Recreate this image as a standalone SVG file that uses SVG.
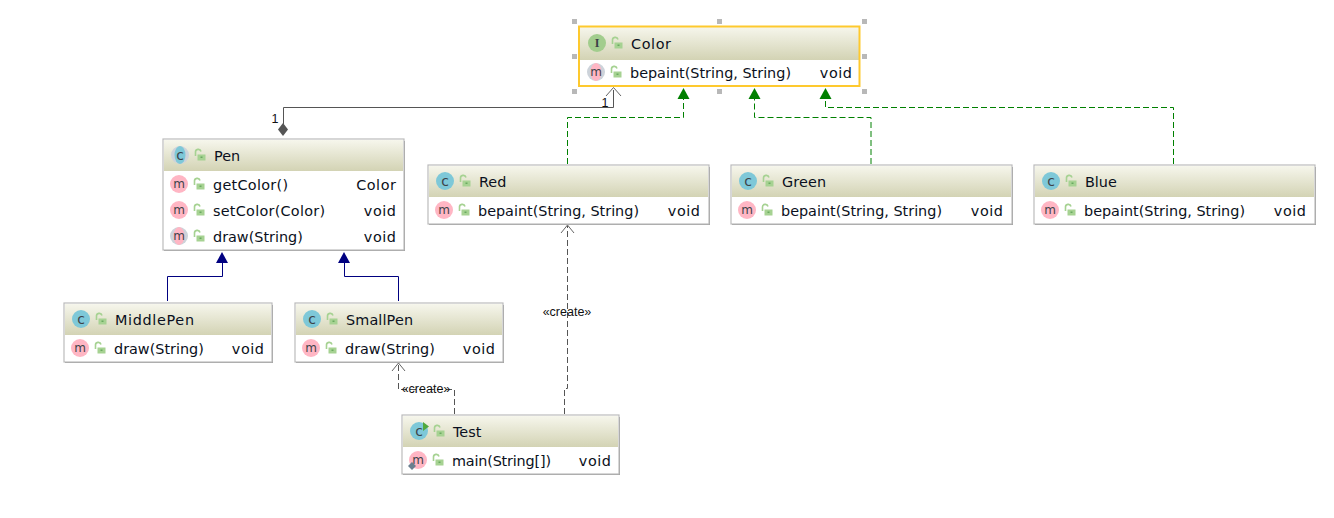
<svg xmlns="http://www.w3.org/2000/svg" xmlns:xlink="http://www.w3.org/1999/xlink" width="1334" height="518" viewBox="0 0 1334 518">
<style>
text{font-family:"DejaVu Sans","Liberation Sans",sans-serif;fill:#0a1020}
.t{font-size:14.4px}
.r{font-size:14.4px;text-anchor:end;letter-spacing:.55px}
.box{fill:#fff;stroke:#bcbcbc;stroke-width:1.2}
.sh{fill:#9a9a9a}
.hd{fill:url(#hg)}
.ic{font-size:12px;text-anchor:middle;fill:#3c4248}
.icc{font-size:14px;text-anchor:middle;fill:#3c4248}
.cc{fill:#7ec8d8}.mc{fill:#ffb6c4}.ic2{fill:#a2cd8d}
.ln{fill:none;stroke-width:1}
.g{stroke:#008000;stroke-dasharray:6 3}
.b{stroke:#000080}
.k{stroke:#555}
.o{fill:none;stroke:#666;stroke-width:1}
.d{stroke:#555;stroke-dasharray:6 3}
.lb{font-size:12.500px;text-anchor:middle;fill:#111;font-family:"Liberation Sans",sans-serif}
.n{font-size:12.500px;text-anchor:middle;fill:#111;font-family:"Liberation Sans",sans-serif}
.hdl{fill:#b8b8b8}
</style>
<defs>
<linearGradient id="hg" x1="0" y1="0" x2="0" y2="1"><stop offset="0" stop-color="#f6f6ec"/><stop offset="1" stop-color="#d3d3b4"/></linearGradient>
<g id="lock"><path d="M-4.500 0v-3.500a2.800 2.800 0 0 1 5.500-1" fill="none" stroke="#a6d292" stroke-width="1.600"/><rect x="-2.500" y="-1.500" width="8" height="6" fill="#a6d292"/><rect x="0.500" y="0.500" width="2" height="1.500" fill="#6aaa60"/></g>
<g id="cic"><circle r="9" class="cc"/><text y="5" class="icc">c</text></g>
<g id="mic"><circle r="9" class="mc"/><text y="4" class="ic">m</text></g>
<g id="mab"><circle r="9" fill="#cdd3da"/><ellipse rx="5.500" ry="9" class="mc"/><text y="4" class="ic">m</text></g>
<g id="cab"><circle r="9" fill="#cdd3da"/><ellipse rx="5.500" ry="9" class="cc"/><text y="5" class="icc">c</text></g>
</defs>
<rect width="1334" height="518" fill="#fff"/>

<g id="connectors">
<path class="ln k" d="M283.500 124V107.500H613.500V90"/>
<path class="o" d="M606 96L613.500 87.500L621 96"/>
<path fill="#555" d="M283 123l5 6.500-5 6.500-5-6.500z"/>
<path class="ln g" d="M567.500 164V117.500H683.500V98"/>
<path fill="#008000" d="M683.500 88l6 11h-12z"/>
<path class="ln g" d="M871 164V117.500H754.500V98"/>
<path fill="#008000" d="M754.500 88l6 11h-12z"/>
<path class="ln g" d="M1173.500 164V107.500H825.500V98"/>
<path fill="#008000" d="M825.500 88l6 11h-12z"/>
<path class="ln b" d="M167.500 301V276.500H222.500V263"/>
<path fill="#000080" d="M222 252l6 11h-12z"/>
<path class="ln b" d="M398.500 301V276.500H344.500V263"/>
<path fill="#000080" d="M344 252l6 11h-12z"/>
<path class="ln d" d="M564.500 414V388.500H567.500V226"/>
<path class="o" d="M561 233L567.500 225L574 233"/>
<path class="ln d" d="M454.500 414V389.500H398.500V364"/>
<path class="o" d="M392 371L398.500 363L405 371"/>
<text class="lb" x="567" y="316">«create»</text>
<text class="lb" x="426" y="393">«create»</text>
<text x="605" y="107" class="n">1</text>
<text x="275" y="123" class="n">1</text>
</g>

<g id="node-color">
<rect x="578.500" y="26.500" width="281" height="59" fill="#fff"/>
<rect x="579" y="27" width="280" height="33" class="hd"/>
<rect x="579" y="26.500" width="280.500" height="59.500" fill="none" stroke="#fec92e" stroke-width="2"/>
<circle cx="597" cy="43" r="9" class="ic2"/><text x="597" y="47" class="ic" style="font-family:'Liberation Serif',serif;font-weight:bold">I</text>
<use xlink:href="#lock" x="617" y="44"/>
<text class="t" x="631" y="49" textLength="40">Color</text>
<use xlink:href="#mab" x="596" y="72"/>
<use xlink:href="#lock" x="616" y="73"/>
<text class="t" x="630" y="78" textLength="161">bepaint(String, String)</text>
<text class="r" x="852.500" y="78">void</text>
<g class="hdl"><rect x="572" y="19" width="5" height="5"/><rect x="717" y="19" width="5" height="5"/><rect x="862" y="19" width="5" height="5"/><rect x="572" y="54" width="5" height="5"/><rect x="862" y="54" width="5" height="5"/><rect x="572" y="89" width="5" height="5"/><rect x="717" y="89" width="5" height="5"/><rect x="862" y="89" width="5" height="5"/></g>
</g>

<g id="node-pen">
<rect x="164" y="141" width="241" height="110" class="sh"/>
<rect x="163" y="139" width="241" height="111" class="box"/>
<rect x="164" y="140" width="239" height="31" class="hd"/>
<use xlink:href="#cab" x="180" y="155"/>
<use xlink:href="#lock" x="200" y="156"/>
<text class="t" x="214" y="161">Pen</text>
<use xlink:href="#mic" x="179" y="184"/><use xlink:href="#lock" x="199" y="185"/>
<text class="t" x="213" y="190" textLength="75">getColor()</text><text class="r" x="396.500" y="190">Color</text>
<use xlink:href="#mic" x="179" y="210"/><use xlink:href="#lock" x="199" y="211"/>
<text class="t" x="213" y="216" textLength="112">setColor(Color)</text><text class="r" x="396.500" y="216">void</text>
<use xlink:href="#mab" x="179" y="236"/><use xlink:href="#lock" x="199" y="237"/>
<text class="t" x="213" y="242">draw(String)</text><text class="r" x="396.500" y="242">void</text>
</g>

<g id="node-red">
<rect x="429" y="167" width="281" height="58" class="sh"/>
<rect x="428" y="165" width="281" height="59" class="box"/>
<rect x="429" y="166" width="279" height="31" class="hd"/>
<use xlink:href="#cic" x="445" y="181"/><use xlink:href="#lock" x="465" y="182"/>
<text class="t" x="479" y="187">Red</text>
<use xlink:href="#mic" x="444" y="210"/><use xlink:href="#lock" x="464" y="211"/>
<text class="t" x="478" y="216" textLength="161">bepaint(String, String)</text><text class="r" x="700.500" y="216">void</text>
</g>

<g id="node-green">
<rect x="732" y="167" width="281" height="58" class="sh"/>
<rect x="731" y="165" width="281" height="59" class="box"/>
<rect x="732" y="166" width="279" height="31" class="hd"/>
<use xlink:href="#cic" x="748" y="181"/><use xlink:href="#lock" x="768" y="182"/>
<text class="t" x="782" y="187" textLength="44">Green</text>
<use xlink:href="#mic" x="747" y="210"/><use xlink:href="#lock" x="767" y="211"/>
<text class="t" x="781" y="216" textLength="161">bepaint(String, String)</text><text class="r" x="1003.500" y="216">void</text>
</g>

<g id="node-blue">
<rect x="1035" y="167" width="281" height="58" class="sh"/>
<rect x="1034" y="165" width="281" height="59" class="box"/>
<rect x="1035" y="166" width="279" height="31" class="hd"/>
<use xlink:href="#cic" x="1051" y="181"/><use xlink:href="#lock" x="1071" y="182"/>
<text class="t" x="1085" y="187">Blue</text>
<use xlink:href="#mic" x="1050" y="210"/><use xlink:href="#lock" x="1070" y="211"/>
<text class="t" x="1084" y="216" textLength="161">bepaint(String, String)</text><text class="r" x="1306.500" y="216">void</text>
</g>

<g id="node-middlepen">
<rect x="65" y="305" width="208" height="58" class="sh"/>
<rect x="64" y="303" width="208" height="59" class="box"/>
<rect x="65" y="304" width="206" height="31" class="hd"/>
<use xlink:href="#cic" x="81" y="319"/><use xlink:href="#lock" x="101" y="320"/>
<text class="t" x="115" y="325" textLength="79">MiddlePen</text>
<use xlink:href="#mic" x="80" y="348"/><use xlink:href="#lock" x="100" y="349"/>
<text class="t" x="114" y="354">draw(String)</text><text class="r" x="264.500" y="354">void</text>
</g>

<g id="node-smallpen">
<rect x="296" y="305" width="208" height="58" class="sh"/>
<rect x="295" y="303" width="208" height="59" class="box"/>
<rect x="296" y="304" width="206" height="31" class="hd"/>
<use xlink:href="#cic" x="312" y="319"/><use xlink:href="#lock" x="332" y="320"/>
<text class="t" x="346" y="325" textLength="67">SmallPen</text>
<use xlink:href="#mic" x="311" y="348"/><use xlink:href="#lock" x="331" y="349"/>
<text class="t" x="345" y="354">draw(String)</text><text class="r" x="495.500" y="354">void</text>
</g>

<g id="node-test">
<rect x="403" y="417" width="217" height="58" class="sh"/>
<rect x="402" y="415" width="217" height="59" class="box"/>
<rect x="403" y="416" width="215" height="31" class="hd"/>
<use xlink:href="#cic" x="419" y="431"/><path d="M423 422l6 4.500-6 4.500z" fill="#4fa83d"/><use xlink:href="#lock" x="439" y="432"/>
<text class="t" x="453" y="437">Test</text>
<use xlink:href="#mic" x="418" y="460"/><path d="M412 462l4 4-4 4-4-4z" fill="#6a7f8f"/><use xlink:href="#lock" x="438" y="461"/>
<text class="t" x="452" y="466" textLength="99">main(String[])</text><text class="r" x="611.500" y="466">void</text>
</g>
</svg>
